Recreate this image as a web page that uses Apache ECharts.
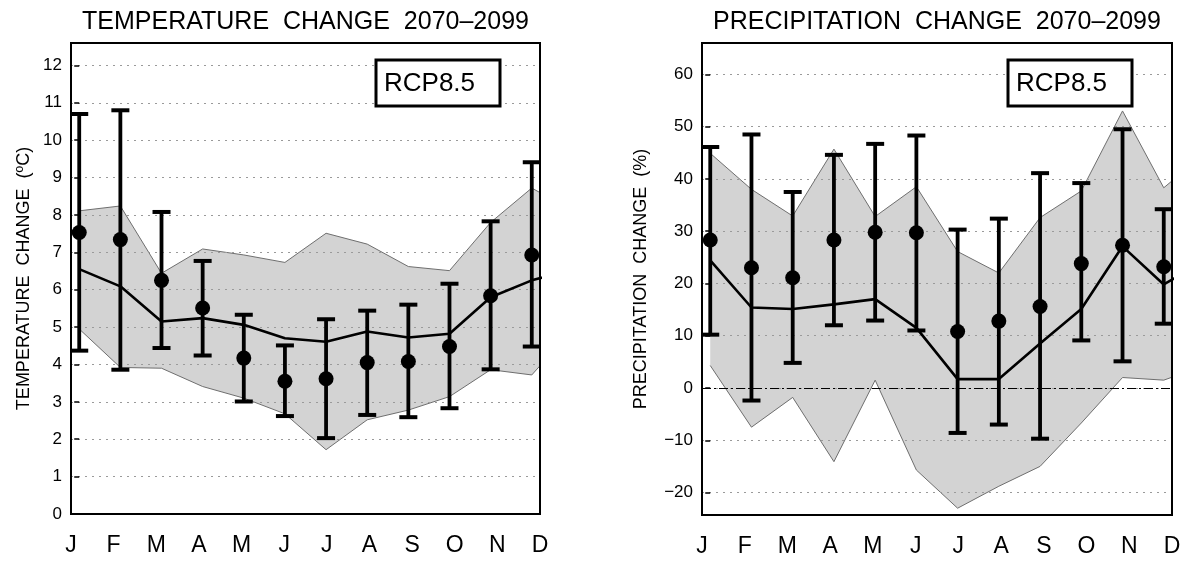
<!DOCTYPE html>
<html>
<head>
<meta charset="utf-8">
<script src="https://cdn.jsdelivr.net/npm/echarts@6/dist/echarts.min.js"></script>
<style>
  html, body { margin: 0; padding: 0; background: #fff; }
  #chart { width: 1184px; height: 561px; }
</style>
</head>
<body>
<div id="chart"></div>
<script>
// Month labels along both x axes
const months = ['J', 'F', 'M', 'A', 'M', 'J', 'J', 'A', 'S', 'O', 'N', 'D'];

// Temperature change (°C), 2070-2099, RCP8.5
const tempMean   = [7.53, 7.34, 6.25, 5.51, 4.17, 3.55, 3.62, 4.05, 4.08, 4.48, 5.84, 6.93];
const tempHigh   = [10.70, 10.80, 8.08, 6.77, 5.33, 4.51, 5.21, 5.44, 5.60, 6.16, 7.83, 9.41];
const tempLow    = [4.37, 3.86, 4.44, 4.24, 3.01, 2.62, 2.03, 2.65, 2.59, 2.83, 3.87, 4.48];
const tempMedian = [6.55, 6.09, 5.15, 5.24, 5.06, 4.70, 4.61, 4.88, 4.72, 4.82, 5.80, 6.25];
const tempBandHi = [8.11, 8.24, 6.44, 7.09, 6.93, 6.73, 7.51, 7.22, 6.62, 6.51, 7.80, 8.72];
const tempBandLo = [4.95, 3.92, 3.90, 3.41, 3.10, 2.68, 1.72, 2.52, 2.78, 3.14, 3.86, 3.72];
const tempTicks  = [0, 12.6, 1];

// Precipitation change (%), 2070-2099, RCP8.5
const precMean   = [28.3, 23.0, 21.1, 28.3, 29.8, 29.7, 10.8, 12.8, 15.6, 23.8, 27.3, 23.2];
const precHigh   = [46.1, 48.5, 37.5, 44.6, 46.7, 48.3, 30.3, 32.4, 41.1, 39.2, 49.5, 34.2];
const precLow    = [10.2, -2.4, 4.8, 12.0, 12.9, 11.0, -8.6, -7.0, -9.7, 9.1, 5.1, 12.3];
const precMedian = [24.4, 15.4, 15.1, 16.0, 17.0, 11.5, 1.7, 1.7, 8.5, 15.1, 27.1, 19.8];
const precBandHi = [44.9, 38.0, 32.9, 45.7, 32.8, 38.5, 26.1, 22.0, 32.6, 37.7, 53.0, 38.3];
const precBandLo = [4.3, -7.5, -1.8, -14.1, 1.5, -15.7, -23.0, -18.8, -15.0, -6.7, 2.0, 1.5];
const precTicks  = [-24.3, 66, 10];

const FONT = 'Liberation Sans';

// Plot boxes (pixels)
const boxes = [
  { left: 71, top: 43, width: 469, height: 471 },
  { left: 702, top: 43, width: 470, height: 472 }
];

// Annual cycle: the series continue one step past December into January
const cyc = arr => arr.concat([arr[0]]);
const pts = arr => cyc(arr).map((v, i) => [i, v]);

// Shaded model range: one polygon along the upper edge and back along the lower edge
function bandRenderer(hi, lo) {
  const upper = cyc(hi), lower = cyc(lo);
  return function (params, api) {
    const poly = [];
    upper.forEach((v, i) => poly.push(api.coord([i, v])));
    for (let i = lower.length - 1; i >= 0; i--) poly.push(api.coord([i, lower[i]]));
    const cs = params.coordSys;
    return {
      type: 'polygon',
      shape: { points: poly },
      style: { fill: '#d3d3d3', stroke: null },
      clipPath: { type: 'rect', shape: { x: cs.x, y: cs.y, width: cs.width, height: cs.height } }
    };
  };
}

function errorBarItem(params, api) {
  const x = api.value(0);
  const top = api.coord([x, api.value(2)]);
  const bot = api.coord([x, api.value(1)]);
  const hw = 9;
  const stem = { stroke: '#000', lineWidth: 3.8 };
  const cap = { stroke: '#000', lineWidth: 4 };
  return {
    type: 'group',
    children: [
      { type: 'line', shape: { x1: top[0], y1: top[1], x2: bot[0], y2: bot[1] }, style: stem },
      { type: 'line', shape: { x1: top[0] - hw, y1: top[1], x2: top[0] + hw, y2: top[1] }, style: cap },
      { type: 'line', shape: { x1: bot[0] - hw, y1: bot[1], x2: bot[0] + hw, y2: bot[1] }, style: cap }
    ]
  };
}

function panelSeries(idx, mean, high, low, median, bandHi, bandLo) {
  const axes = { xAxisIndex: idx * 2, yAxisIndex: idx };
  const edge = { color: '#6e6e6e', width: 1 };
  const list = [
    Object.assign({
      type: 'custom', renderItem: bandRenderer(bandHi, bandLo), silent: true,
      data: [[0, bandLo[0], bandHi[0]]], z: 1
    }, axes),
    Object.assign({
      type: 'line', data: pts(bandLo), symbol: 'none', silent: true, lineStyle: edge, z: 2
    }, axes),
    Object.assign({
      type: 'line', data: pts(bandHi), symbol: 'none', silent: true, lineStyle: edge, z: 2
    }, axes),
    Object.assign({
      type: 'line', data: pts(median), symbol: 'none', silent: true,
      lineStyle: { color: '#000', width: 2.6 }, z: 5
    }, axes),
    Object.assign({
      type: 'custom', renderItem: errorBarItem, silent: true,
      data: mean.map((v, i) => [i, low[i], high[i]]), z: 6
    }, axes),
    Object.assign({
      type: 'scatter', data: mean.map((v, i) => [i, v]), symbol: 'circle', symbolSize: 15,
      itemStyle: { color: '#000', opacity: 1 }, silent: true, z: 7
    }, axes)
  ];
  if (idx === 1) {
    list[3].markLine = {
      silent: true, symbol: 'none', label: { show: false },
      lineStyle: { color: '#000', width: 1, type: [9, 3, 2, 3] },
      data: [{ yAxis: 0 }]
    };
  }
  return list;
}

function valueX(gridIndex) {
  return { type: 'value', gridIndex, min: -0.2, max: 11.2, show: false };
}
function monthX(gridIndex) {
  return {
    type: 'category', gridIndex, data: months, boundaryGap: false, position: 'bottom',
    axisLine: { show: false }, axisTick: { show: false }, splitLine: { show: false },
    axisLabel: { fontFamily: FONT, fontSize: 23, color: '#000', margin: 20, interval: 0 }
  };
}
function valueY(gridIndex, ticks, name, nameGap) {
  const axis = {
    type: 'value', gridIndex, min: ticks[0], max: ticks[1], z: 3,
    name: name, nameLocation: 'middle', nameGap: nameGap,
    nameTextStyle: { fontFamily: FONT, fontSize: 18, color: '#000' },
    axisLine: { show: false },
    axisTick: { show: true, length: 5, lineStyle: { color: '#000', width: 1.5 } },
    axisLabel: {
      fontFamily: FONT, fontSize: 17, color: '#000', margin: 9,
      formatter: v => (Math.abs(v - Math.round(v / ticks[2]) * ticks[2]) < 1e-6 ? String(v).replace('-', '\u2212') : '')
    },
    splitLine: { show: true, lineStyle: { color: '#9a9a9a', width: 1, type: [2, 5] } }
  };
  if (ticks[0] % ticks[2] === 0) axis.interval = ticks[2];
  else axis.splitNumber = 9;
  return axis;
}

function boxGraphics(b, title, tag) {
  return [
    {
      type: 'text', z: 100,
      style: { text: title, x: b.left + b.width / 2, y: 22, textAlign: 'center', textVerticalAlign: 'middle',
               font: '25px "' + FONT + '"', fill: '#000' }
    },
    {
      type: 'rect', z: 100, silent: true,
      shape: { x: b.left, y: b.top, width: b.width, height: b.height },
      style: { fill: 'none', stroke: '#000', lineWidth: 2 }
    },
    {
      type: 'rect', z: 100, silent: true,
      shape: { x: b.left + b.width - 164, y: 60, width: 124, height: 46 },
      style: { fill: '#fff', stroke: '#000', lineWidth: 3 }
    },
    {
      type: 'text', z: 101,
      style: { text: tag, x: b.left + b.width - 156, y: 84, textAlign: 'left', textVerticalAlign: 'middle',
               font: '26px "' + FONT + '"', fill: '#000' }
    }
  ];
}

const chart = echarts.init(document.getElementById('chart'), null, { renderer: 'canvas' });
chart.setOption({
  animation: false,
  backgroundColor: '#fff',
  grid: boxes.map(b => Object.assign({ containLabel: false }, b)),
  xAxis: [valueX(0), monthX(0), valueX(1), monthX(1)],
  yAxis: [
    valueY(0, tempTicks, 'TEMPERATURE  CHANGE  (\u00baC)', 38),
    valueY(1, precTicks, 'PRECIPITATION  CHANGE  (%)', 52)
  ],
  series: [].concat(
    panelSeries(0, tempMean, tempHigh, tempLow, tempMedian, tempBandHi, tempBandLo),
    panelSeries(1, precMean, precHigh, precLow, precMedian, precBandHi, precBandLo)
  ),
  graphic: [].concat(
    boxGraphics(boxes[0], 'TEMPERATURE  CHANGE  2070\u20132099', 'RCP8.5'),
    boxGraphics(boxes[1], 'PRECIPITATION  CHANGE  2070\u20132099', 'RCP8.5')
  )
});
</script>
</body>
</html>
